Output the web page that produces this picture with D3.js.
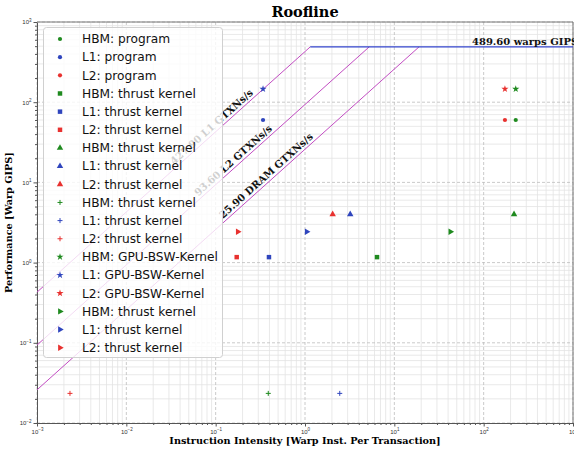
<!DOCTYPE html>
<html>
<head>
<meta charset="utf-8">
<script src="https://cdn.jsdelivr.net/npm/d3@7"></script>
<style>
  body { margin: 0; background: #fff; }
  svg { display: block; }
</style>
</head>
<body>
<svg id="chart"></svg>
<script>
// memory levels, one colour each
const levels = ["HBM", "L1", "L2"];
const levelColors = ["#1f8a1f", "#2f45bd", "#e8312f"];

// kernels (one marker shape each), perf is shared by the three levels
const kernelNames = ["program", "thrust kernel", "thrust kernel", "thrust kernel", "GPU-BSW-Kernel", "thrust kernel"];
const kernelShapes = ["circle", "square", "triangleUp", "plus", "star", "triangleRight"];
const kernelPerf = [60, 1.17, 4.0, 0.0234, 146, 2.43];
const hbmIntensity = [228.6, 6.4, 218.8, 0.388, 228.6, 42.4];
const l1Intensity = [0.339, 0.395, 3.21, 2.45, 0.339, 1.045];
const l2Intensity = [173, 0.172, 2.04, 0.00234, 173, 0.177];

// ceilings
const ceilingNames = ["L1", "L2", "DRAM"];
const ceilingBandwidth = [427.90, 93.60, 25.90];
const peakGips = 489.60;

const width = 574, height = 450;
const margin = {top: 22, right: 1, bottom: 27, left: 37};

const svg = d3.select("#chart")
    .attr("width", width)
    .attr("height", height)
    .attr("font-family", "DejaVu Sans, sans-serif");

const x = d3.scaleLog()
    .domain([1e-3, 1e3])
    .range([margin.left, width - margin.right]);

const y = d3.scaleLog()
    .domain([1e-2, 1e3])
    .range([height - margin.bottom, margin.top]);

const majorX = d3.range(-3, 4).map(e => Math.pow(10, e));
const majorY = d3.range(-2, 4).map(e => Math.pow(10, e));
const minorOf = (majors) => majors.slice(0, -1).flatMap(m => d3.range(2, 10).map(k => k * m));
const minorX = minorOf(majorX);
const minorY = minorOf(majorY);

svg.append("defs").append("clipPath").attr("id", "plot")
    .append("rect")
    .attr("x", margin.left).attr("y", margin.top)
    .attr("width", width - margin.left - margin.right)
    .attr("height", height - margin.top - margin.bottom);

// grid
const grid = svg.append("g");
grid.selectAll("line.minx").data(minorX).join("line")
    .attr("x1", d => x(d)).attr("x2", d => x(d))
    .attr("y1", margin.top).attr("y2", height - margin.bottom)
    .attr("stroke", "#e3e3e3").attr("stroke-width", 0.8);
grid.selectAll("line.miny").data(minorY).join("line")
    .attr("y1", d => y(d)).attr("y2", d => y(d))
    .attr("x1", margin.left).attr("x2", width - margin.right)
    .attr("stroke", "#e3e3e3").attr("stroke-width", 0.8);
grid.selectAll("line.majx").data(majorX).join("line")
    .attr("x1", d => x(d)).attr("x2", d => x(d))
    .attr("y1", margin.top).attr("y2", height - margin.bottom)
    .attr("stroke", "#bdbdbd").attr("stroke-width", 0.8).attr("stroke-dasharray", "3,2");
grid.selectAll("line.majy").data(majorY).join("line")
    .attr("y1", d => y(d)).attr("y2", d => y(d))
    .attr("x1", margin.left).attr("x2", width - margin.right)
    .attr("stroke", "#bdbdbd").attr("stroke-width", 0.8).attr("stroke-dasharray", "3,2");

// tick labels as 10^n
const powLabel = (sel) => sel.selectAll(".tick text").each(function(d) {
    const t = d3.select(this);
    const e = Math.round(Math.log10(d));
    t.text(null);
    t.append("tspan").text("10");
    t.append("tspan").attr("dy", "-0.55em").attr("font-size", "0.75em")
        .text(e < 0 ? "\u2212" + (-e) : String(e));
});

const styleAxis = (g) => {
    g.selectAll("line").attr("stroke", "#555");
    g.select(".domain").attr("stroke", "#555");
    g.selectAll("text").attr("fill", "#333").attr("font-size", 6);
};

svg.append("g")
    .attr("transform", `translate(0,${height - margin.bottom})`)
    .call(d3.axisBottom(x).tickValues(minorX).tickSize(2).tickFormat(""))
    .call(g => g.select(".domain").remove())
    .call(g => g.selectAll("line").attr("stroke", "#555"));
svg.append("g")
    .attr("transform", `translate(0,${height - margin.bottom})`)
    .call(d3.axisBottom(x).tickValues(majorX).tickSize(3.5).tickPadding(3).tickSizeOuter(0))
    .call(powLabel)
    .call(styleAxis);

svg.append("g")
    .attr("transform", `translate(${margin.left},0)`)
    .call(d3.axisLeft(y).tickValues(minorY).tickSize(2).tickFormat(""))
    .call(g => g.select(".domain").remove())
    .call(g => g.selectAll("line").attr("stroke", "#555"));
svg.append("g")
    .attr("transform", `translate(${margin.left},0)`)
    .call(d3.axisLeft(y).tickValues(majorY).tickSize(3.5).tickPadding(2).tickSizeOuter(0))
    .call(powLabel)
    .call(styleAxis);

// top and right spines
svg.append("line")
    .attr("x1", margin.left).attr("x2", width - margin.right)
    .attr("y1", margin.top).attr("y2", margin.top)
    .attr("stroke", "#777");
svg.append("line")
    .attr("x1", width - margin.right).attr("x2", width - margin.right)
    .attr("y1", margin.top).attr("y2", height - margin.bottom)
    .attr("stroke", "#777");

// rooflines
const plot = svg.append("g").attr("clip-path", "url(#plot)");
const line = d3.line().x(d => x(d[0])).y(d => y(d[1]));

ceilingBandwidth.forEach(bw => {
    const ridge = peakGips / bw;
    plot.append("path")
        .attr("d", line([[1e-3, bw * 1e-3], [ridge, peakGips]]))
        .attr("fill", "none")
        .attr("stroke", "#c24cc2")
        .attr("stroke-width", 1);
});
plot.append("path")
    .attr("d", line([[peakGips / d3.max(ceilingBandwidth), peakGips], [1e3, peakGips]]))
    .attr("fill", "none")
    .attr("stroke", "#3344cc")
    .attr("stroke-width", 1.2);

// ceiling labels along the slopes
const angle = -Math.atan((y(1) - y(10)) / (x(10) - x(1))) * 180 / Math.PI;
const labelAt = [0.036, 0.067, 0.127];
ceilingBandwidth.forEach((bw, i) => {
    const px = x(labelAt[i]), py = y(bw * labelAt[i]);
    svg.append("text")
        .attr("transform", `translate(${px},${py}) rotate(${angle})`)
        .attr("dy", -3)
        .attr("font-family", "DejaVu Serif, serif")
        .attr("font-weight", "bold")
        .attr("font-size", 10)
        .attr("fill", "#111")
        .text(`${bw.toFixed(2)} ${ceilingNames[i]} GTXNs/s`);
});

svg.append("text")
    .attr("x", 472)
    .attr("y", y(peakGips) - 2)
    .attr("font-family", "DejaVu Serif, serif")
    .attr("font-weight", "bold")
    .attr("font-size", 10)
    .attr("fill", "#111")
    .text(`${peakGips.toFixed(2)} warps GIPS`);

// markers
const symbolPath = (shape) => {
    switch (shape) {
        case "circle": return d3.symbol(d3.symbolCircle, 14)();
        case "square": return d3.symbol(d3.symbolSquare, 20)();
        case "triangleUp": return d3.symbol(d3.symbolTriangle, 18)();
        case "triangleRight": return d3.symbol(d3.symbolTriangle, 18)();
        case "star": return d3.symbol(d3.symbolStar, 16)();
        case "plus": return "M-2.5,0H2.5M0,-2.5V2.5";
    }
};
const drawMarker = (g, shape, color) => {
    const p = g.append("path").attr("d", symbolPath(shape));
    if (shape === "plus") {
        p.attr("fill", "none").attr("stroke", color).attr("stroke-width", 1);
    } else {
        p.attr("fill", color);
    }
    if (shape === "triangleRight") p.attr("transform", "rotate(90)");
};

const intensities = [hbmIntensity, l1Intensity, l2Intensity];
const legendItems = [];
kernelNames.forEach((name, k) => {
    levels.forEach((lvl, l) => {
        const g = plot.append("g")
            .attr("transform", `translate(${x(intensities[l][k])},${y(kernelPerf[k])})`);
        drawMarker(g, kernelShapes[k], levelColors[l]);
        legendItems.push({label: `${lvl}: ${name}`, shape: kernelShapes[k], color: levelColors[l]});
    });
});

// legend
const legend = svg.append("g");
legend.append("rect")
    .attr("x", 43.5).attr("y", 27.5)
    .attr("width", 179).attr("height", 330)
    .attr("rx", 3)
    .attr("fill", "#fff").attr("fill-opacity", 0.8)
    .attr("stroke", "#d0d0d0");
legendItems.forEach((d, i) => {
    const row = legend.append("g").attr("transform", `translate(60,${39 + i * 18.16})`);
    drawMarker(row, d.shape, d.color);
    row.append("text")
        .attr("x", 22)
        .attr("dy", "0.35em")
        .attr("font-size", 12.2)
        .attr("fill", "#111")
        .text(d.label);
});

// title and axis labels
svg.append("text")
    .attr("x", (margin.left + width - margin.right) / 2)
    .attr("y", 17)
    .attr("text-anchor", "middle")
    .attr("font-family", "DejaVu Serif, serif")
    .attr("font-weight", "bold")
    .attr("font-size", 14.5)
    .text("Roofline");

svg.append("text")
    .attr("x", (margin.left + width - margin.right) / 2)
    .attr("y", 444)
    .attr("text-anchor", "middle")
    .attr("font-family", "DejaVu Serif, serif")
    .attr("font-weight", "bold")
    .attr("font-size", 9.7)
    .text("Instruction Intensity [Warp Inst. Per Transaction]");

svg.append("text")
    .attr("transform", `translate(12,${(margin.top + height - margin.bottom) / 2}) rotate(-90)`)
    .attr("text-anchor", "middle")
    .attr("font-family", "DejaVu Serif, serif")
    .attr("font-weight", "bold")
    .attr("font-size", 9.7)
    .text("Performance [Warp GIPS]");
</script>
</body>
</html>
